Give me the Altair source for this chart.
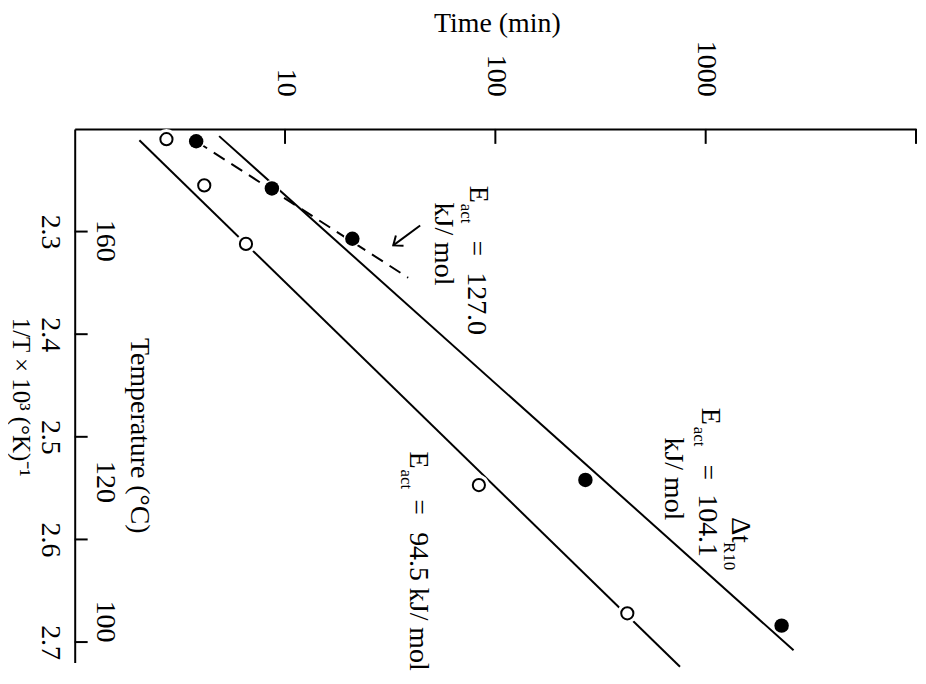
import altair as alt
import pandas as pd

FONT = "Liberation Serif"
FS = 28

# ---- data ----
open_time = [2.73, 4.13, 6.52, 83.5, 424]
open_invT = [2.210, 2.255, 2.312, 2.547, 2.672]

filled_time = [3.78, 8.66, 20.9, 268, 2296]
filled_invT = [2.212, 2.258, 2.307, 2.542, 2.684]

fit_open_time = [2.03, 755]
fit_open_invT = [2.211, 2.724]
fit_filled_time = [4.86, 2617]
fit_filled_invT = [2.207, 2.708]
dash_time = [3.78, 38.5]
dash_invT = [2.212, 2.345]

time_labels = [10, 100, 1000]
time_ticks = [10, 100, 1000, 10000]
invT_ticks = [2.3, 2.4, 2.5, 2.6, 2.7]

temp_labels = ["160", "120", "100"]
temp_invT = [2.309, 2.544, 2.680]

# annotation pieces (text, time, 1/T, font size)
ann_text = ["E", "act", "=", "127.0", "kJ/ mol",
            "Δt", "R10", "E", "act", "=", "104.1", "kJ/ mol",
            "E", "act", "=", "94.5  kJ/ mol"]
ann_time = [75.7, 68.7, 74.1, 74.1, 51.7,
            1331, 1220, 960, 880, 929, 929, 641,
            39.4, 35.7, 39.4, 39.4]
ann_invT = [2.2553, 2.2728, 2.3087, 2.3397, 2.2718,
            2.5783, 2.6026, 2.4716, 2.4901, 2.5269, 2.556, 2.5007,
            2.5143, 2.5318, 2.5609, 2.5929]
ann_size = [FS, 17, FS, FS, FS,
            FS, 17, FS, 17, FS, FS, FS,
            FS, 17, FS, FS]

arrow_time = [43.9, 32.7]
arrow_invT = [2.2941, 2.3135]

# ---- tables ----
open_df = pd.DataFrame({"t": open_time, "v": open_invT})
filled_df = pd.DataFrame({"t": filled_time, "v": filled_invT})
fit_open_df = pd.DataFrame({"t": fit_open_time, "v": fit_open_invT})
fit_filled_df = pd.DataFrame({"t": fit_filled_time, "v": fit_filled_invT})
dash_df = pd.DataFrame({"t": dash_time, "v": dash_invT})
xtick_df = pd.DataFrame({"t": time_ticks})
ytick_df = pd.DataFrame({"v": invT_ticks})
temp_df = pd.DataFrame({"label": temp_labels, "v": temp_invT})
ann_df = pd.DataFrame({"text": ann_text, "t": ann_time, "v": ann_invT, "fs": ann_size})
arrow_df = pd.DataFrame({"t": arrow_time, "v": arrow_invT})
head_df = arrow_df.iloc[[1]]
title_df = pd.DataFrame({"label": ["Temperature (°C)"], "v": [2.499]})

X = alt.X(
    "t:Q",
    scale=alt.Scale(type="log", domain=[1, 10000], nice=False),
    axis=alt.Axis(
        orient="top", values=time_labels, format="d", title="Time (min)",
        labelAngle=90, labelAlign="right", labelBaseline="middle", labelPadding=33,
        ticks=False, tickSize=0, grid=False, domainColor="black", domainWidth=2,
        labelFont=FONT, labelFontSize=FS, labelColor="black",
        titleFont=FONT, titleFontSize=FS, titleFontWeight="normal", titleColor="black",
        titleX=424, titleY=-98, titleAlign="center", titleBaseline="alphabetic", titleAngle=0,
        labelOverlap=False, labelFlush=False,
    ),
)
Y = alt.Y(
    "v:Q",
    scale=alt.Scale(domain=[2.2, 2.72], zero=False, nice=False, reverse=True),
    axis=alt.Axis(
        orient="left", values=invT_ticks, format=".1f", title="1/T × 10³ (°K)⁻¹",
        labelAngle=90, labelAlign="center", labelBaseline="top", labelPadding=11,
        ticks=False, tickSize=0, grid=False, domainColor="black", domainWidth=2,
        labelFont=FONT, labelFontSize=FS, labelColor="black",
        titleFont=FONT, titleFontSize=25, titleFontWeight="normal", titleColor="black",
        titleX=-62, titleY=269, titleAlign="center", titleBaseline="alphabetic", titleAngle=90,
        labelOverlap=False, labelFlush=False,
    ),
)

lines_open = alt.Chart(fit_open_df).mark_line(color="black", strokeWidth=2).encode(x=X, y=Y)
lines_filled = alt.Chart(fit_filled_df).mark_line(color="black", strokeWidth=2).encode(x=X, y=Y)
line_dash = alt.Chart(dash_df).mark_line(color="black", strokeWidth=2, strokeDash=[13, 8]).encode(x=X, y=Y)

halo_open = alt.Chart(open_df).mark_point(shape="circle", filled=True, color="white", size=420, opacity=1).encode(x=X, y=Y)
halo_filled = alt.Chart(filled_df).mark_point(shape="circle", filled=True, color="white", size=300, opacity=1).encode(x=X, y=Y)
pts_open = alt.Chart(open_df).mark_point(shape="circle", filled=False, color="black", size=150, strokeWidth=2, opacity=1).encode(x=X, y=Y)
pts_filled = alt.Chart(filled_df).mark_point(shape="circle", filled=True, color="black", size=210, opacity=1).encode(x=X, y=Y)

xticks = alt.Chart(xtick_df).mark_rule(color="black", strokeWidth=2).encode(x=X, y=alt.value(0), y2=alt.value(15))
yticks = alt.Chart(ytick_df).mark_rule(color="black", strokeWidth=2).encode(y=Y, x=alt.value(0), x2=alt.value(13))

temps = alt.Chart(temp_df).mark_text(
    font=FONT, fontSize=FS, angle=90, align="center", baseline="alphabetic", color="black"
).encode(y=Y, x=alt.value(22), text="label:N")

temp_title = alt.Chart(title_df).mark_text(
    font=FONT, fontSize=FS, angle=90, align="center", baseline="alphabetic", color="black"
).encode(y=Y, x=alt.value(57), text="label:N")

ann = alt.Chart(ann_df).mark_text(
    font=FONT, angle=90, align="left", baseline="alphabetic", color="black"
).encode(x=X, y=Y, text="text:N", size=alt.Size("fs:Q", scale=None, legend=None))

arrow = alt.Chart(arrow_df).mark_line(color="black", strokeWidth=2).encode(x=X, y=Y)
head = alt.Chart(head_df).mark_point(
    shape="M-1,-0.8L0,0L-1,0.8", filled=False, color="black", size=260, strokeWidth=2,
    angle=143.5, opacity=1
).encode(x=X, y=Y)

chart = alt.layer(
    lines_open, lines_filled, line_dash, arrow, head,
    halo_open, halo_filled, pts_open, pts_filled,
    xticks, yticks, temps, temp_title, ann,
).properties(
    width=845, height=536,
    padding={"left": 67, "top": 120, "right": 2, "bottom": 12},
    autosize=alt.AutoSizeParams(type="none"),
    background="white",
).configure_view(stroke=None)

chart.save("out.html", embed_options={"renderer": "svg", "actions": False})
